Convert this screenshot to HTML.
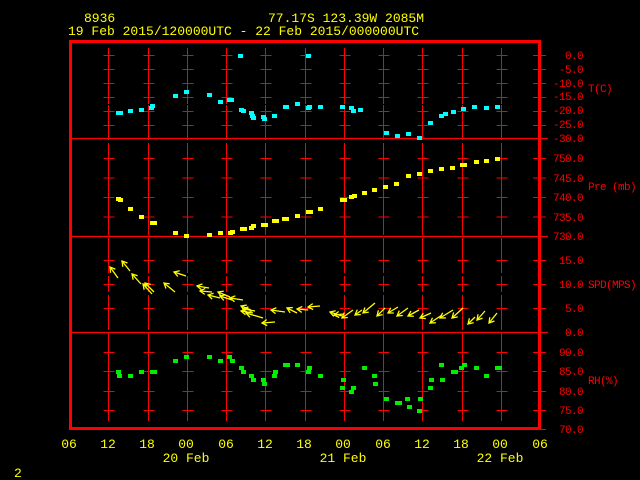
<!DOCTYPE html>
<html><head><meta charset="utf-8"><style>
html,body{margin:0;padding:0;background:#000;width:640px;height:480px;overflow:hidden}
svg{display:block}
text{font-family:"Liberation Mono",monospace;font-size:13px}
.y{fill:#ffff00}.r{fill:#ff0000}
.r text,text.r{font-size:11px;letter-spacing:-0.6px}
</style></head><body>
<svg id="s" width="640" height="480" xmlns="http://www.w3.org/2000/svg">
<g id="grid"></g>
<g id="data"></g>
<rect x="70.5" y="41.5" width="469" height="387" fill="none" stroke="#ff0000" stroke-width="3"/>
<text class="y" x="84" y="22">8936</text>
<text class="y" x="268" y="22">77.17S  123.39W  2085M</text>
<text class="y" x="68" y="35">19 Feb 2015/120000UTC - 22 Feb 2015/000000UTC</text>
<g class="r" text-anchor="end">
<text x="583" y="59">0.0</text><text x="583" y="73">-5.0</text><text x="583" y="87">-10.0</text><text x="583" y="100">-15.0</text><text x="583" y="114">-20.0</text><text x="583" y="128">-25.0</text><text x="583" y="142">-30.0</text>
<text x="583" y="162">750.0</text><text x="583" y="182">745.0</text><text x="583" y="201">740.0</text><text x="583" y="221">735.0</text><text x="583" y="240">730.0</text>
<text x="583" y="264">15.0</text><text x="583" y="288">10.0</text><text x="583" y="312">5.0</text><text x="583" y="336">0.0</text>
<text x="583" y="356">90.0</text><text x="583" y="375">85.0</text><text x="583" y="395">80.0</text><text x="583" y="414">75.0</text><text x="583" y="433">70.0</text>
</g>
<g class="r">
<text x="588" y="92">T(C)</text><text x="588" y="190">Pre (mb)</text><text x="588" y="288">SPD(MPS)</text><text x="588" y="384">RH(%)</text>
</g>
<g class="y" text-anchor="middle">
<text x="69" y="448">06</text><text x="108" y="448">12</text><text x="147" y="448">18</text><text x="186" y="448">00</text><text x="226" y="448">06</text><text x="265" y="448">12</text><text x="304" y="448">18</text><text x="343" y="448">00</text><text x="383" y="448">06</text><text x="422" y="448">12</text><text x="461" y="448">18</text><text x="500" y="448">00</text><text x="540" y="448">06</text>
<text x="186" y="462">20 Feb</text><text x="343" y="462">21 Feb</text><text x="500" y="462">22 Feb</text>
</g>
<text class="y" x="14" y="477">2</text>
</svg>
<script>
var NS="http://www.w3.org/2000/svg";
function el(p,t,a){var e=document.createElementNS(NS,t);for(var k in a)e.setAttribute(k,a[k]);p.appendChild(e);return e;}
var g=document.getElementById("grid"),d=document.getElementById("data");
var ys=[55,69,83,97,111,125,158,177.5,197,216.5,260,284,308,352,371,391,410];
for(var k=1;k<12;k++){var x=Math.round(69+39.25*k)+0.5;
 el(g,"line",{x1:x,y1:48,x2:x,y2:421,stroke:"#f00","stroke-width":1,"stroke-dasharray":"16,3"});
 ys.forEach(function(y){el(g,"line",{x1:x-5,y1:y+.5,x2:x+6,y2:y+.5,stroke:"#f00"});el(g,"line",{x1:x,y1:y-6,x2:x,y2:y+7,stroke:"#f00"});});}
ys.concat([429]).forEach(function(y){el(g,"line",{x1:533,y1:y+.5,x2:546,y2:y+.5,stroke:"#f00"});});
[138,236,332].forEach(function(y){el(g,"line",{x1:71,y1:y+.5,x2:548,y2:y+.5,stroke:"#f00","stroke-width":1.3});});
function sq(pts,c){pts.forEach(function(p){el(d,"rect",{x:p[0]-2,y:p[1]-2,width:5,height:4,fill:c});});}
sq([[118,113],[120,113],[130,111],[141,110],[152,106],[151,108],[175,96],[186,92],[209,95],[220,102],[229,100],[231,100],[240,56],[241,110],[243,111],[251,113],[252,116],[253,118],[263,117],[264,119],[274,116],[285,107],[286,107],[297,104],[308,108],[309,107],[308,56],[320,107],[342,107],[351,108],[353,111],[360,110],[386,133],[397,136],[408,134],[419,138],[430,123],[441,116],[445,114],[453,112],[463,109],[474,107],[486,108],[497,107]],"#00ffff");
sq([[118,199],[120,200],[130,209],[141,217],[152,223],[154,223],[175,233],[186,236],[209,235],[220,233],[230,233],[232,232],[242,229],[244,229],[251,228],[253,226],[263,225],[265,225],[274,221],[276,221],[284,219],[286,219],[297,216],[308,212],[310,212],[320,209],[342,200],[344,200],[351,197],[354,196],[364,193],[374,190],[385,187],[396,184],[408,176],[419,174],[430,171],[441,169],[452,168],[462,165],[464,165],[476,162],[486,161],[497,159]],"#ffff00");
sq([[118,372],[119,376],[130,376],[141,372],[152,372],[154,372],[175,361],[186,357],[209,357],[220,361],[229,357],[232,361],[241,368],[243,372],[251,376],[253,380],[263,380],[264,384],[274,376],[275,372],[285,365],[287,365],[297,365],[308,372],[309,368],[320,376],[343,380],[342,388],[351,392],[353,388],[364,368],[374,376],[375,384],[386,399],[397,403],[399,403],[407,399],[409,407],[420,399],[419,411],[430,388],[431,380],[442,380],[441,365],[453,372],[455,372],[461,368],[464,365],[476,368],[486,376],[497,368],[499,368]],"#00ee00");
var ar=[[110,267,118,278],[122,261,130,271],[132,274,141,284],[143,284,152,294],[145,283,154,292],[164,283,175,292],[174,272,186,276],[197,286,209,288],[208,295,220,298],[200,291,212,292],[218,292,230,297],[220,296,232,300],[230,298,243,300],[241,306,251,310],[241,311,253,313],[243,309,255,311],[246,313,263,318],[262,323,275,322],[271,310,285,312],[287,308,297,313],[297,309,308,310],[308,307,320,306],[330,312,342,316],[334,315,344,314],[342,318,353,310],[355,315,362,310],[363,313,375,303],[377,316,385,308],[388,313,398,307],[397,316,408,308],[408,316,419,310],[420,318,431,313],[430,323,442,315],[440,318,453,310],[452,318,463,308],[468,324,475,317],[477,320,485,311],[489,323,497,313]];
ar.forEach(function(a){var hx=a[0],hy=a[1],tx=a[2],ty=a[3];var dx=tx-hx,dy=ty-hy,L=Math.hypot(dx,dy),ux=dx/L,uy=dy/L;var px=-uy,py=ux;
 el(d,"line",{x1:hx,y1:hy,x2:tx,y2:ty,stroke:"#ffff00","stroke-width":1.3});
 el(d,"polyline",{points:(hx+ux*5+px*3)+","+(hy+uy*5+py*3)+" "+hx+","+hy+" "+(hx+ux*5-px*3)+","+(hy+uy*5-py*3),fill:"none",stroke:"#ffff00","stroke-width":1.3});});
</script>
</body></html>
